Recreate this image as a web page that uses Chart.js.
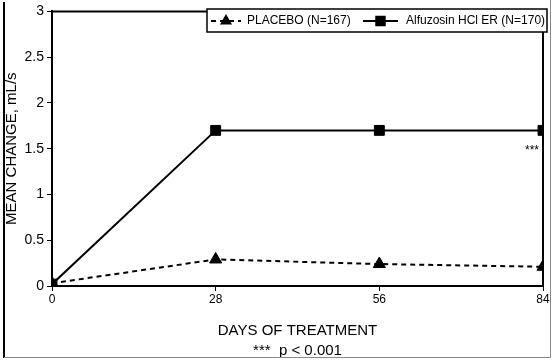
<!DOCTYPE html>
<html>
<head>
<meta charset="utf-8">
<script src="https://cdn.jsdelivr.net/npm/chart.js@4.4.1/dist/chart.umd.min.js"></script>
<style>
html,body{margin:0;padding:0;background:#fff;}
#wrap{position:relative;width:555px;height:361px;}
canvas{display:block;}
</style>
</head>
<body>
<div id="wrap"><canvas id="c" width="555" height="361"></canvas></div>
<script>
const days = [0, 28, 56, 84];
const placebo = [0.03, 0.29, 0.24, 0.21];
const alfuzosin = [0.02, 1.70, 1.70, 1.70];
const seriesLabels = ['PLACEBO (N=167)', 'Alfuzosin HCl ER (N=170)'];
const xTicks = [0, 28, 56, 84];
const yTicks = [0, 0.5, 1, 1.5, 2, 2.5, 3];
const sigMark = { x: 84, y: 1.48, text: '***' };
const xTitle = ['DAYS OF TREATMENT', '***  p < 0.001'];
const yTitle = 'MEAN CHANGE, mL/s';

const FONT = 'Liberation Sans, Arial, sans-serif';

const framePlugin = {
  id: 'frame',
  afterDraw(chart) {
    const ctx = chart.ctx;
    const a = chart.chartArea;
    ctx.save();
    ctx.strokeStyle = '#000';
    ctx.lineWidth = 2;
    ctx.beginPath();
    ctx.moveTo(a.left, a.top);
    ctx.lineTo(a.right, a.top);
    ctx.lineTo(a.right, a.bottom);
    ctx.stroke();
    ctx.lineWidth = 2;
    ctx.beginPath();
    ctx.moveTo(4, 2); ctx.lineTo(4, 358);
    ctx.stroke();
    ctx.strokeStyle = '#888';
    ctx.lineWidth = 1;
    ctx.beginPath();
    ctx.moveTo(4, 357.5); ctx.lineTo(550.5, 357.5); ctx.lineTo(550.5, 0);
    ctx.stroke();

    const xs = chart.scales.x, ys = chart.scales.y;
    ctx.fillStyle = '#000';
    ctx.font = '12px ' + FONT;
    ctx.textAlign = 'right';
    ctx.textBaseline = 'middle';
    ctx.fillText(sigMark.text, xs.getPixelForValue(sigMark.x) - 4, ys.getPixelForValue(sigMark.y));

    const bx = 207, by = 9, bw = 340, bh = 23;
    ctx.fillStyle = '#fff';
    ctx.fillRect(bx, by, bw, bh);
    ctx.strokeStyle = '#000';
    ctx.lineWidth = 1.5;
    ctx.strokeRect(bx, by, bw, bh);
    const cy = by + bh / 2 + 0.5;
    const items = [
      { x0: 211, x1: 241, tx: 247, r: 5 },
      { x0: 363, x1: 398, tx: 406, r: 6 }
    ];
    chart.data.datasets.forEach((ds, i) => {
      const it = items[i];
      ctx.strokeStyle = '#000';
      ctx.lineWidth = 2;
      ctx.setLineDash(ds.borderDash || []);
      ctx.beginPath();
      ctx.moveTo(it.x0, cy); ctx.lineTo(it.x1, cy);
      ctx.stroke();
      ctx.setLineDash([]);
      Chart.helpers.drawPoint(ctx, {
        pointStyle: ds.pointStyle, radius: it.r, borderWidth: 1, rotation: 0
      }, (it.x0 + it.x1) / 2, cy);
      ctx.fillStyle = '#000';
      ctx.fill();
      ctx.font = '12px ' + FONT;
      ctx.textAlign = 'left';
      ctx.textBaseline = 'middle';
      ctx.fillText(ds.label, it.tx, cy);
    });
    ctx.restore();
  }
};

new Chart(document.getElementById('c'), {
  type: 'line',
  data: {
    datasets: [
      {
        label: seriesLabels[0],
        data: days.map((d, i) => ({ x: d, y: placebo[i] })),
        borderColor: '#000', backgroundColor: '#000',
        borderWidth: 2, borderDash: [5, 4],
        pointStyle: 'triangle', pointRadius: 7, pointBorderWidth: 1,
        pointBackgroundColor: '#000', pointBorderColor: '#000'
      },
      {
        label: seriesLabels[1],
        data: days.map((d, i) => ({ x: d, y: alfuzosin[i] })),
        borderColor: '#000', backgroundColor: '#000',
        borderWidth: 2,
        pointStyle: 'rect', pointRadius: 7, pointBorderWidth: 1,
        pointBackgroundColor: '#000', pointBorderColor: '#000'
      }
    ]
  },
  options: {
    responsive: false,
    animation: false,
    devicePixelRatio: 1,
    layout: { padding: { top: 10, right: 12, left: 0, bottom: 0 } },
    plugins: { legend: { display: false }, tooltip: { enabled: false } },
    scales: {
      x: {
        type: 'linear', min: 0, max: 84,
        afterBuildTicks: (s) => { s.ticks = xTicks.map(v => ({ value: v })); },
        afterFit: (s) => { s.height = 75; },
        ticks: { color: '#000', font: { family: FONT, size: 12 }, padding: 1, maxRotation: 0, autoSkip: false, callback: (v) => String(v) },
        grid: { display: true, drawOnChartArea: false, drawTicks: true, tickLength: 5, color: '#000', lineWidth: 1 },
        border: { display: true, color: '#000', width: 2 },
        title: { display: true, text: xTitle, color: '#000', font: { family: FONT, size: 15, lineHeight: 1.33 }, padding: { top: 0, bottom: 0 } }
      },
      y: {
        type: 'linear', min: 0, max: 3,
        afterBuildTicks: (s) => { s.ticks = yTicks.map(v => ({ value: v })); },
        afterFit: (s) => { s.width = 52; },
        ticks: { color: '#000', font: { family: FONT, size: 14 }, padding: 3, callback: (v) => String(v) },
        grid: { display: true, drawOnChartArea: false, drawTicks: true, tickLength: 5, color: '#000', lineWidth: 1 },
        border: { display: true, color: '#000', width: 2 },
        title: { display: true, text: yTitle, color: '#000', font: { family: FONT, size: 15 }, padding: { top: 3, bottom: 0 } }
      }
    }
  },
  plugins: [framePlugin]
});
</script>
</body>
</html>
